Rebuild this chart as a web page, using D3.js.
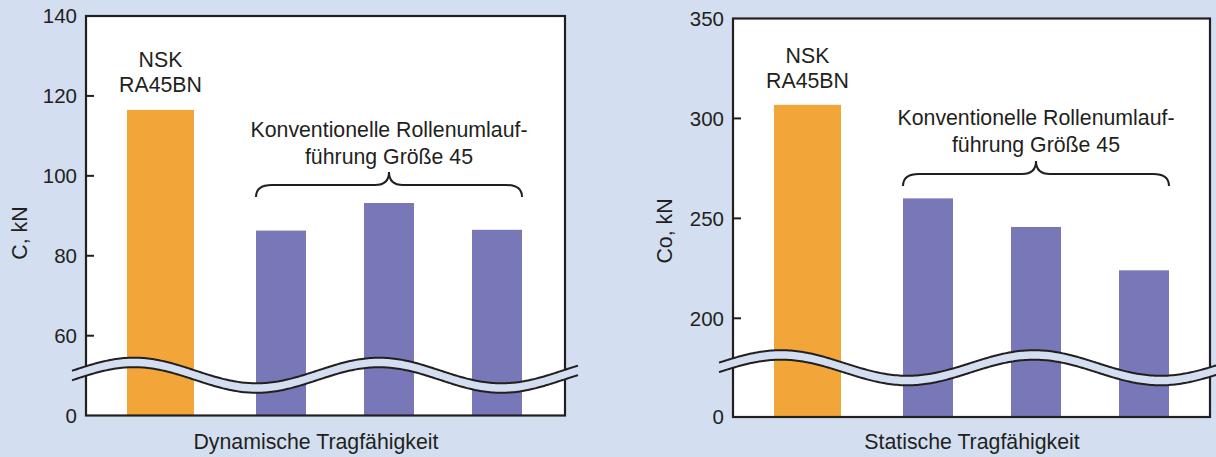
<!DOCTYPE html>
<html>
<head>
<meta charset="utf-8">
<script src="https://cdn.jsdelivr.net/npm/d3@7"></script>
<style>
  html, body { margin: 0; padding: 0; background: #d3dff0; }
  svg text { font-family: "Liberation Sans", Arial, Helvetica, sans-serif; fill: #231f20; }
</style>
</head>
<body>
<svg id="chart" width="1216" height="457"></svg>
<script>
// data
var categories = ['NSK RA45BN', 'Konventionell A', 'Konventionell B', 'Konventionell C'];
var dynamicValues = [116.5, 86.3, 93.2, 86.5];
var staticValues = [306.8, 260, 245.7, 224];
var dynamicTicks = [0, 60, 80, 100, 120, 140];
var staticTicks = [0, 200, 250, 300, 350];
var nskLabel = ['NSK', 'RA45BN'];
var groupLabel = ['Konventionelle Rollenumlauf-', 'führung Größe 45'];

var
  ink = '#231f20',
  bg = '#d3dff0',
  orange = '#f2a63a',
  purple = '#7878b9'
  ;

var svg = d3.select('#chart');
svg.append('rect').attr('width', 1216).attr('height', 457).attr('fill', bg);

function panel(opts){
  var
    g = svg.append('g'),
    left = opts.left, right = opts.right, top = opts.top, bottom = opts.bottom,
    values = opts.values
    ;

  // broken axis: 0 .. break .. first tick .. max
  var yScale = d3.scaleLinear()
    .domain([0, opts.breakVal, opts.maxVal])
    .range([bottom, opts.breakY, top]);

  var xScale = d3.scaleLinear()
    .domain([0, 1, categories.length - 1])
    .range([left + 74.5, left + 195, left + 411]);

  var wScale = d3.scaleOrdinal().domain(categories).range([67, 50, 50, 50]);
  var cScale = d3.scaleOrdinal().domain(categories).range([orange, purple, purple, purple]);

  g.append('rect')
    .attr('x', left).attr('y', top)
    .attr('width', right - left).attr('height', bottom - top)
    .attr('fill', '#fff');

  g.selectAll('.bar')
    .data(values)
    .enter().append('rect')
    .attr('class', 'bar')
    .attr('x', function(d, i){ return xScale(i) - wScale(categories[i]) / 2; })
    .attr('width', function(d, i){ return wScale(categories[i]); })
    .attr('y', function(d){ return yScale(d); })
    .attr('height', function(d){ return yScale(0) - yScale(d); })
    .attr('fill', function(d, i){ return cScale(categories[i]); });

  g.append('rect')
    .attr('x', left).attr('y', top)
    .attr('width', right - left).attr('height', bottom - top)
    .attr('fill', 'none').attr('stroke', ink).attr('stroke-width', 2.2);

  // ticks point inward, none at the corners
  var axis = g.append('g').attr('transform', 'translate(' + left + ',0)');
  axis.selectAll('line')
    .data(opts.ticks.filter(function(t){ return t !== 0 && t !== opts.maxVal; }))
    .enter().append('line')
    .attr('x1', 0).attr('x2', 8)
    .attr('y1', function(d){ return yScale(d); })
    .attr('y2', function(d){ return yScale(d); })
    .attr('stroke', ink).attr('stroke-width', 2);
  axis.selectAll('text')
    .data(opts.ticks)
    .enter().append('text')
    .attr('x', -9)
    .attr('y', function(d){ return yScale(d); })
    .attr('dy', '0.36em')
    .attr('text-anchor', 'end')
    .style('font-size', '20.5px')
    .text(function(d){ return d; });

  // wavy break band
  var x0 = left - 14, x1 = right + 13;
  var pts = d3.range(x0, x1 + 1, 2);
  var wave = function(x){ return opts.waveY - 12.8 * Math.cos(2 * Math.PI * (x - left - 48) / opts.period); };
  var upper = d3.line().x(function(x){ return x; }).y(function(x){ return wave(x); });
  var lower = d3.line().x(function(x){ return x; }).y(function(x){ return wave(x) + 9.5; });
  var band = d3.area().x(function(x){ return x; })
    .y0(function(x){ return wave(x); })
    .y1(function(x){ return wave(x) + 9.5; });
  g.append('path').attr('d', band(pts)).attr('fill', bg);
  g.append('path').attr('d', upper(pts)).attr('fill', 'none').attr('stroke', ink).attr('stroke-width', 2);
  g.append('path').attr('d', lower(pts)).attr('fill', 'none').attr('stroke', ink).attr('stroke-width', 2);

  // NSK label
  g.append('text')
    .attr('x', xScale(0)).attr('y', opts.nskY)
    .attr('text-anchor', 'middle')
    .style('font-size', '21.3px')
    .selectAll('tspan')
    .data(nskLabel)
    .enter().append('tspan')
    .attr('x', xScale(0))
    .attr('dy', function(d, i){ return i ? 25 : 0; })
    .text(function(d){ return d; });

  // group label and brace
  var bx0 = xScale(1) - 25, bx1 = xScale(3) + 25, tip = xScale(2);
  g.append('text')
    .attr('x', tip).attr('y', opts.groupY)
    .attr('text-anchor', 'middle')
    .style('font-size', '21.3px')
    .selectAll('tspan')
    .data(groupLabel)
    .enter().append('tspan')
    .attr('x', tip)
    .attr('dy', function(d, i){ return i ? 26.5 : 0; })
    .text(function(d){ return d; });

  var bm = opts.braceY, be = bm + 12, bt = bm - 13;
  var p = d3.path();
  p.moveTo(bx0, be);
  p.quadraticCurveTo(bx0, bm, bx0 + 16, bm);
  p.lineTo(tip - 14, bm);
  p.quadraticCurveTo(tip, bm, tip, bt);
  p.quadraticCurveTo(tip, bm, tip + 14, bm);
  p.lineTo(bx1 - 16, bm);
  p.quadraticCurveTo(bx1, bm, bx1, be);
  g.append('path').attr('d', p.toString())
    .attr('fill', 'none').attr('stroke', ink).attr('stroke-width', 2);

  // axis titles
  g.append('text')
    .attr('transform', 'translate(' + opts.yTitleX + ',' + opts.yTitleY + ') rotate(-90)')
    .attr('text-anchor', 'middle')
    .style('font-size', '21.3px')
    .text(opts.yTitle);

  g.append('text')
    .attr('x', opts.xTitleX).attr('y', 449)
    .attr('text-anchor', 'middle')
    .style('font-size', '21.3px')
    .text(opts.xTitle);
}

panel({
  left: 86, right: 565, top: 16, bottom: 415.5,
  values: dynamicValues, ticks: dynamicTicks,
  breakVal: 60, breakY: 335.7, maxVal: 140,
  waveY: 370.5, period: 245,
  nskY: 67, groupY: 137, braceY: 185,
  yTitle: 'C, kN', yTitleX: 27, yTitleY: 233,
  xTitle: 'Dynamische Tragfähigkeit', xTitleX: 316
});

panel({
  left: 733, right: 1210, top: 18.5, bottom: 417,
  values: staticValues, ticks: staticTicks,
  breakVal: 200, breakY: 318.3, maxVal: 350,
  waveY: 363, period: 253,
  nskY: 63, groupY: 125, braceY: 174,
  yTitle: 'Co, kN', yTitleX: 672, yTitleY: 231,
  xTitle: 'Statische Tragfähigkeit', xTitleX: 972
});
</script>
</body>
</html>
